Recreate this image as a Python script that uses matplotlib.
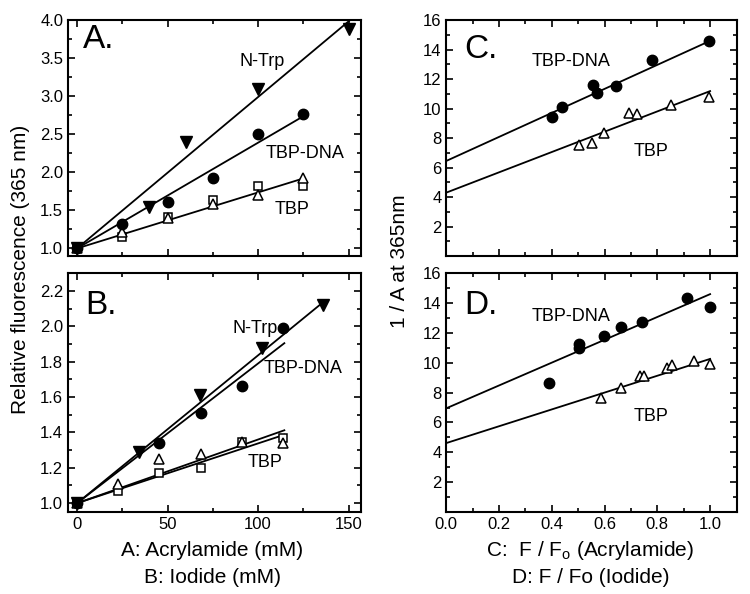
import matplotlib
matplotlib.use('Agg')
import matplotlib.pyplot as plt
from matplotlib.ticker import MultipleLocator
import numpy as np

plt.rcParams['font.family'] = ['Liberation Sans', 'DejaVu Sans']
plt.rcParams['mathtext.fontset'] = 'custom'
plt.rcParams['mathtext.rm'] = 'Liberation Sans'

# ---- panel A: acrylamide (mM) vs relative fluorescence
a_ntrp_x = [0, 40, 60, 100, 150]
a_ntrp_y = [1.0, 1.54, 2.40, 3.10, 3.89]
a_dna_x = [0, 25, 50, 75, 100, 125]
a_dna_y = [1.0, 1.32, 1.61, 1.93, 2.51, 2.77]
a_tri_x = [0, 25, 50, 75, 100, 125]
a_tri_y = [1.0, 1.22, 1.40, 1.59, 1.70, 1.92]
a_sq_x = [0, 25, 50, 75, 100, 125]
a_sq_y = [1.0, 1.15, 1.41, 1.63, 1.82, 1.82]
# fitted lines (intercept 1, slope, end x)
a_fit_slope = {'ntrp': 0.0199, 'dna': 0.0139, 'tbp': 0.00736}
a_fit_end = {'ntrp': 151, 'dna': 125, 'tbp': 125}

# ---- panel B: iodide (mM)
b_ntrp_x = [0, 34, 68, 102, 136]
b_ntrp_y = [1.0, 1.29, 1.61, 1.88, 2.12]
b_dna_x = [0, 45.5, 68.25, 91, 113.75]
b_dna_y = [1.0, 1.34, 1.51, 1.66, 1.99]
b_tri_x = [0, 22.75, 45.5, 68.25, 91, 113.75]
b_tri_y = [1.0, 1.11, 1.25, 1.28, 1.345, 1.34]
b_sq_x = [0, 22.75, 45.5, 68.25, 91, 113.75]
b_sq_y = [1.0, 1.07, 1.17, 1.20, 1.345, 1.37]
b_fit_slope = {'ntrp': 0.00836, 'dna': 0.0079, 'tri': 0.00360, 'sq': 0.00338}
b_fit_end = {'ntrp': 137, 'dna': 114.5, 'tri': 114.5, 'sq': 114.5}

# ---- panel C: F/Fo (acrylamide) vs 1/A
c_dna_x = [0.40, 0.44, 0.557, 0.571, 0.645, 0.778, 0.997]
c_dna_y = [9.46, 10.11, 11.57, 11.08, 11.55, 13.32, 14.62]
c_tbp_x = [0.504, 0.552, 0.596, 0.692, 0.723, 0.852, 0.997]
c_tbp_y = [7.50, 7.70, 8.35, 9.70, 9.62, 10.25, 10.80]
c_fit = {'dna': (6.45, 8.15), 'tbp': (4.30, 6.89)}   # intercept, slope

# ---- panel D: F/Fo (iodide) vs 1/A
d_dna_x = [0.389, 0.502, 0.504, 0.598, 0.661, 0.743, 0.912, 1.0]
d_dna_y = [8.63, 11.0, 11.26, 11.82, 12.38, 12.76, 14.32, 13.76]
d_tbp_x = [0.587, 0.661, 0.733, 0.749, 0.837, 0.856, 0.940, 1.0]
d_tbp_y = [7.62, 8.34, 9.10, 9.10, 9.62, 9.85, 10.12, 9.90]
d_fit = {'dna': (6.95, 7.65), 'tbp': (4.62, 5.64)}

fig = plt.figure(figsize=(7.5, 5.94), dpi=100)
axA = fig.add_axes([0.0907, 0.569, 0.391, 0.397])
axB = fig.add_axes([0.0907, 0.138, 0.391, 0.402])
axC = fig.add_axes([0.595, 0.569, 0.387, 0.397])
axD = fig.add_axes([0.595, 0.138, 0.387, 0.402])

lw = 1.3
mk = dict(markersize=7.5, linestyle='none')

def style(ax):
    for s in ax.spines.values():
        s.set_linewidth(1.5)
    ax.tick_params(which='both', direction='in', top=True, right=True,
                   width=1.2, labelsize=12)
    ax.tick_params(which='major', length=5)
    ax.tick_params(which='minor', length=3)

def line(ax, x0, x1, b, m):
    xs = np.array([x0, x1])
    ax.plot(xs, b + m * xs, color='black', lw=lw)

# A
line(axA, 0, a_fit_end['ntrp'], 1.0, a_fit_slope['ntrp'])
line(axA, 0, a_fit_end['dna'], 1.0, a_fit_slope['dna'])
line(axA, 0, a_fit_end['tbp'], 1.0, a_fit_slope['tbp'])
axA.plot(a_sq_x, a_sq_y, marker='s', mfc='white', mec='black', mew=1.1, markersize=6, linestyle='none')
axA.plot(a_tri_x, a_tri_y, marker='^', mfc='white', mec='black', mew=1.1, **mk)
axA.plot(a_dna_x, a_dna_y, marker='o', color='black', **mk)
axA.plot(a_ntrp_x, a_ntrp_y, marker='v', color='black', markersize=8, linestyle='none')
axA.set_xlim(-5, 157)
axA.set_ylim(0.9, 4.0)
axA.xaxis.set_major_locator(MultipleLocator(50))
axA.xaxis.set_minor_locator(MultipleLocator(25))
axA.yaxis.set_major_locator(MultipleLocator(0.5))
axA.yaxis.set_minor_locator(MultipleLocator(0.25))
axA.set_xticklabels([])
axA.text(102, 3.46, 'N-Trp', fontsize=13, ha='center', va='center')
axA.text(126, 2.25, 'TBP-DNA', fontsize=13, ha='center', va='center')
axA.text(119, 1.51, 'TBP', fontsize=13, ha='center', va='center')
axA.text(0.05, 0.88, 'A.', fontsize=24, transform=axA.transAxes)
style(axA)

# B
line(axB, 0, b_fit_end['ntrp'], 1.0, b_fit_slope['ntrp'])
line(axB, 0, b_fit_end['dna'], 1.0, b_fit_slope['dna'])
line(axB, 0, b_fit_end['tri'], 1.0, b_fit_slope['tri'])
line(axB, 0, b_fit_end['sq'], 1.0, b_fit_slope['sq'])
axB.plot(b_sq_x, b_sq_y, marker='s', mfc='white', mec='black', mew=1.1, markersize=6, linestyle='none')
axB.plot(b_tri_x, b_tri_y, marker='^', mfc='white', mec='black', mew=1.1, **mk)
axB.plot(b_dna_x, b_dna_y, marker='o', color='black', **mk)
axB.plot(b_ntrp_x, b_ntrp_y, marker='v', color='black', markersize=8, linestyle='none')
axB.set_xlim(-5, 157)
axB.set_ylim(0.95, 2.3)
axB.xaxis.set_major_locator(MultipleLocator(50))
axB.xaxis.set_minor_locator(MultipleLocator(25))
axB.yaxis.set_major_locator(MultipleLocator(0.2))
axB.yaxis.set_minor_locator(MultipleLocator(0.1))
axB.text(98.5, 1.99, 'N-Trp', fontsize=13, ha='center', va='center')
axB.text(125, 1.76, 'TBP-DNA', fontsize=13, ha='center', va='center')
axB.text(104, 1.23, 'TBP', fontsize=13, ha='center', va='center')
axB.text(0.058, 0.83, 'B.', fontsize=24, transform=axB.transAxes)
style(axB)

# C
line(axC, 0, 1.0, *c_fit['dna'])
line(axC, 0, 1.0, *c_fit['tbp'])
axC.plot(c_tbp_x, c_tbp_y, marker='^', mfc='white', mec='black', mew=1.1, **mk)
axC.plot(c_dna_x, c_dna_y, marker='o', color='black', **mk)
axC.set_xlim(0, 1.1)
axC.set_ylim(0, 16)
axC.xaxis.set_major_locator(MultipleLocator(0.2))
axC.xaxis.set_minor_locator(MultipleLocator(0.1))
axC.set_yticks([2, 4, 6, 8, 10, 12, 14, 16])
axC.yaxis.set_minor_locator(MultipleLocator(1))
axC.set_xticklabels([])
axC.text(0.474, 13.2, 'TBP-DNA', fontsize=13, ha='center', va='center')
axC.text(0.776, 7.1, 'TBP', fontsize=13, ha='center', va='center')
axC.text(0.062, 0.84, 'C.', fontsize=24, transform=axC.transAxes)
style(axC)

# D
line(axD, 0, 1.0, *d_fit['dna'])
line(axD, 0, 1.0, *d_fit['tbp'])
axD.plot(d_tbp_x, d_tbp_y, marker='^', mfc='white', mec='black', mew=1.1, **mk)
axD.plot(d_dna_x, d_dna_y, marker='o', color='black', **mk)
axD.set_xlim(0, 1.1)
axD.set_ylim(0, 16)
axD.xaxis.set_major_locator(MultipleLocator(0.2))
axD.xaxis.set_minor_locator(MultipleLocator(0.1))
axD.set_yticks([2, 4, 6, 8, 10, 12, 14, 16])
axD.yaxis.set_minor_locator(MultipleLocator(1))
axD.text(0.474, 13.1, 'TBP-DNA', fontsize=13, ha='center', va='center')
axD.text(0.776, 6.4, 'TBP', fontsize=13, ha='center', va='center')
axD.text(0.062, 0.83, 'D.', fontsize=24, transform=axD.transAxes)
style(axD)

# shared labels
fig.text(0.027, 0.547, 'Relative fluorescence (365 nm)', rotation=90,
         fontsize=15, ha='center', va='center')
fig.text(0.533, 0.56, '1 / A at 365nm', rotation=90,
         fontsize=15, ha='center', va='center')
fig.text(0.283, 0.074, 'A: Acrylamide (mM)', fontsize=15, ha='center', va='center')
fig.text(0.283, 0.027, 'B: Iodide (mM)', fontsize=15, ha='center', va='center')
fig.text(0.787, 0.074, r'C:  F / F$_\mathregular{o}$ (Acrylamide)', fontsize=15,
         ha='center', va='center')
fig.text(0.787, 0.027, 'D: F / Fo (Iodide)', fontsize=15, ha='center', va='center')

fig.savefig('out.png', dpi=100)
